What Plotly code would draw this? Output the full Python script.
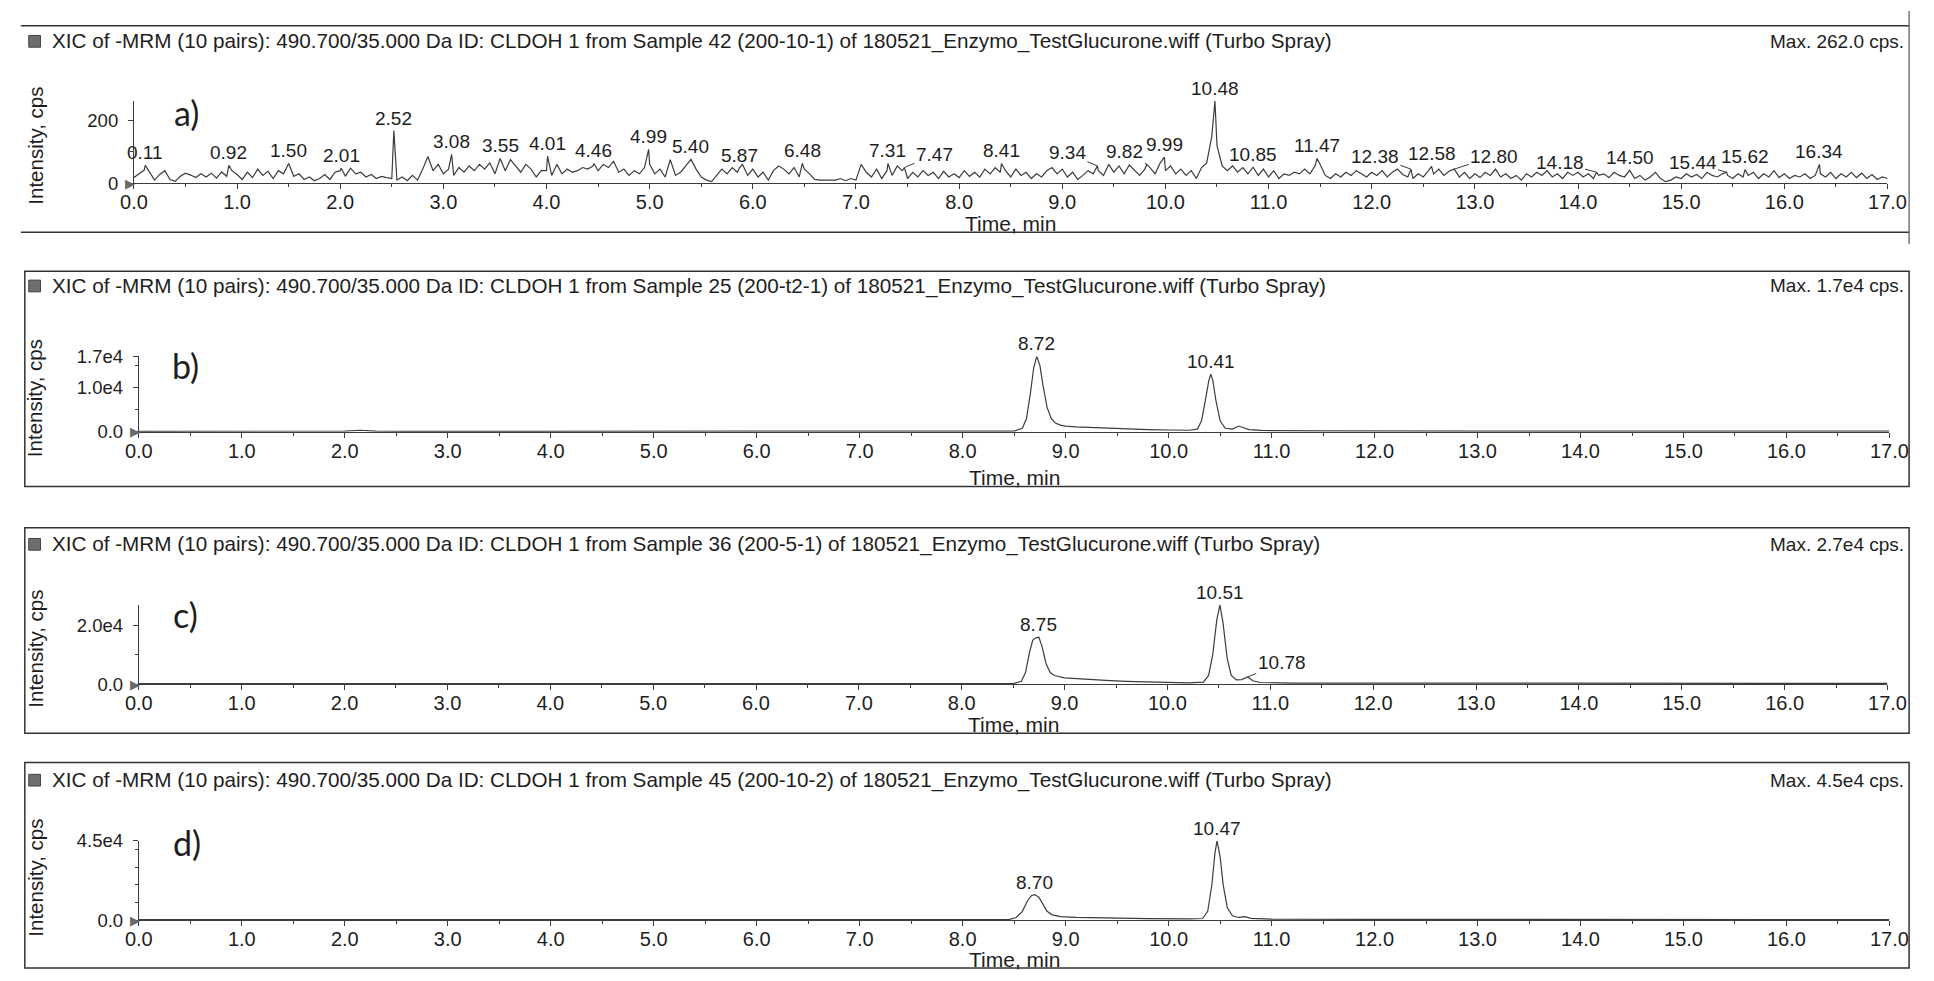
import numpy as np
import plotly.graph_objects as go

W, H = 1934, 981

# ---------------- DATA ----------------
a_step = 0.05
a_noise = [
    18, 30, 42, 38, 10, 28, 40, 12, 6, 22, 32, 26, 18, 30, 20, 32, 16, 36, 22, 40,
    28, 12, 35, 18, 45, 25, 38, 15, 40, 30, 55, 22, 30, 12, 20, 8, 15, 28, 12, 35,
    40, 22, 48, 30, 35, 20, 28, 15, 22, 18, 15, 10, 20, 8, 25, 10, 45, 85, 40, 60,
    30, 45, 25, 50, 35, 55, 40, 60, 45, 65, 30, 70, 40, 75, 55, 35, 60, 45, 20, 40,
    40, 25, 60, 30, 45, 35, 40, 50, 45, 55, 40, 60, 50, 70, 35, 45, 25, 40, 30, 50,
    60, 30, 45, 20, 75, 25, 35, 55, 70, 45, 20, 10, 5, 25, 45, 30, 50, 35, 60, 25,
    45, 20, 35, 10, 40, 55, 45, 30, 50, 20, 45, 30, 12, 10, 10, 12, 10, 15, 8, 15,
    10, 60, 35, 20, 45, 15, 40, 25, 55, 40, 15, 35, 20, 40, 25, 35, 15, 38, 20, 30,
    18, 40, 22, 35, 20, 45, 30, 50, 35, 40, 20, 45, 25, 35, 15, 30, 20, 40, 50, 30,
    45, 20, 35, 12, 25, 40, 30, 40, 25, 60, 35, 55, 30, 58, 40, 25, 45, 50, 30, 65,
    40, 55, 30, 45, 25, 40, 15, 50, 65, 150, 120, 55, 40, 55, 35, 50, 30, 45, 25, 45,
    20, 40, 15, 30, 25, 35, 30, 45, 30, 55, 60, 25, 15, 30, 20, 35, 25, 40, 30, 20,
    35, 25, 40, 20, 35, 45, 28, 20, 15, 30, 20, 40, 30, 45, 25, 38, 30, 20, 35, 15,
    30, 18, 35, 25, 45, 20, 30, 15, 25, 10, 30, 20, 35, 25, 40, 20, 30, 15, 35, 25,
    35, 20, 30, 15, 25, 30, 18, 35, 25, 20, 30, 15, 25, 10, 20, 35, 15, 5, 10, 20,
    15, 30, 20, 28, 15, 35, 25, 20, 30, 25, 15, 30, 20, 25, 35, 15, 30, 20, 40, 18,
    30, 15, 25, 20, 30, 15, 25, 30, 20, 35, 15, 30, 20, 35, 18, 32, 15, 28, 12, 20,
    15,
]
a_peak_rt = [0.11, 0.92, 1.50, 2.01, 2.52, 3.08, 3.55, 4.01, 4.46, 4.99, 5.40, 5.87,
             6.48, 7.31, 7.47, 8.41, 9.34, 9.82, 9.99, 10.48, 10.85, 11.47, 12.38,
             12.58, 12.80, 14.18, 14.50, 15.44, 15.62, 16.34]
a_peak_int = [57, 57, 63, 48, 168, 92, 79, 86, 63, 108, 76, 48,
              63, 63, 50, 63, 55, 60, 83, 262, 51, 79, 45,
              54, 45, 35, 41, 35, 44, 60]
# labels drawn with a leader line: rt -> (dx, dy) pixel offset of the label
a_leaders = {7.47: (30, -13), 9.34: (-30, -13), 9.82: (-22, -13), 12.38: (-36, -13),
             12.80: (40, -13), 14.18: (-37, -10), 15.44: (-34, -10)}

# Panel b
b_time = [0.0, 2.0, 2.15, 2.3, 2.6, 8.50, 8.58, 8.62, 8.66, 8.69, 8.72, 8.75, 8.78, 8.82,
          8.86, 8.90, 8.95, 9.0, 9.1, 9.2, 9.4, 9.6, 9.8, 10.0, 10.2, 10.28, 10.32, 10.36,
          10.39, 10.41, 10.43, 10.46, 10.50, 10.55, 10.62, 10.68, 10.72, 10.78, 10.9, 11.5,
          13.0, 17.0]
b_int = [100, 150, 350, 150, 100, 150, 800, 3000, 9000, 14500, 17000, 15000, 10500, 5500,
         3000, 2000, 1500, 1300, 1100, 1000, 900, 700, 500, 400, 350, 600, 2500, 7500,
         11500, 13000, 11500, 7000, 2500, 800, 600, 1300, 1000, 500, 300, 200,
         150, 150]
b_labels = [(8.72, 17000), (10.41, 13000)]

# Panel c
c_time = [0.0, 2.0, 2.15, 2.3, 2.6, 8.50, 8.58, 8.62, 8.66, 8.69, 8.72, 8.75, 8.78, 8.82,
          8.86, 8.90, 9.0, 9.2, 9.4, 9.6, 9.8, 10.0, 10.2, 10.35, 10.40, 10.44, 10.48,
          10.51, 10.54, 10.58, 10.62, 10.67, 10.72, 10.78, 10.83, 10.9, 11.2, 17.0]
c_int = [200, 250, 450, 250, 200, 200, 1000, 4000, 11000, 15000, 15800, 16000, 13000, 7000,
         4000, 3000, 2200, 1700, 1300, 1000, 800, 600, 500, 700, 3000, 10000, 22000,
         27000, 21000, 9000, 3000, 1500, 1600, 2500, 1200, 600, 400, 300]
c_labels = [(8.75, 16000), (10.51, 27000)]
c_leaders = [(10.78, 2500, 34, -14)]

# Panel d
d_time = [0.0, 2.0, 2.15, 2.3, 2.6, 8.45, 8.52, 8.58, 8.63, 8.67, 8.70, 8.74, 8.78, 8.82,
          8.87, 8.95, 9.1, 9.4, 9.8, 10.2, 10.33, 10.38, 10.42, 10.45, 10.47, 10.50,
          10.53, 10.57, 10.62, 10.68, 10.74, 10.8, 11.0, 12.0, 17.0]
d_int = [300, 350, 700, 350, 300, 300, 1500, 5000, 11000, 14000, 14500, 13000, 9000, 5000,
         3000, 2000, 1500, 1100, 800, 700, 900, 5000, 20000, 38000, 45000, 36000,
         20000, 7000, 2500, 1500, 2000, 1000, 600, 400, 300]
d_labels = [(8.70, 14500), (10.47, 45000)]

titles = [
    "XIC of -MRM (10 pairs): 490.700/35.000 Da ID: CLDOH 1 from Sample 42 (200-10-1) of 180521_Enzymo_TestGlucurone.wiff (Turbo Spray)",
    "XIC of -MRM (10 pairs): 490.700/35.000 Da ID: CLDOH 1 from Sample 25 (200-t2-1) of 180521_Enzymo_TestGlucurone.wiff (Turbo Spray)",
    "XIC of -MRM (10 pairs): 490.700/35.000 Da ID: CLDOH 1 from Sample 36 (200-5-1) of 180521_Enzymo_TestGlucurone.wiff (Turbo Spray)",
    "XIC of -MRM (10 pairs): 490.700/35.000 Da ID: CLDOH 1 from Sample 45 (200-10-2) of 180521_Enzymo_TestGlucurone.wiff (Turbo Spray)",
]
max_labels = ["Max. 262.0 cps.", "Max. 1.7e4 cps.", "Max. 2.7e4 cps.", "Max. 4.5e4 cps."]
panel_letters = ["a)", "b)", "c)", "d)"]
y_ranges = [262, 1.7e4, 2.7e4, 4.5e4]
y_tickvals = [[0, 200], [0, 1.0e4, 1.7e4], [0, 2.0e4], [0, 4.5e4]]
y_ticktext = [["0", "200"], ["0.0", "1.0e4", "1.7e4"], ["0.0", "2.0e4"], ["0.0", "4.5e4"]]
y_minor = [100, 5000, 1.0e4, 1.0e4]

# ---------------- BUILD ----------------
grid = np.round(np.arange(len(a_noise)) * a_step, 2)
merged = dict(zip(grid.tolist(), a_noise))
merged.update(dict(zip(a_peak_rt, a_peak_int)))
a_time = sorted(merged)
a_int = [merged[t] for t in a_time]

series = [(a_time, a_int), (b_time, b_int), (c_time, c_int), (d_time, d_int)]

FONT = "Liberation Sans, Arial, sans-serif"
INK = "#1e1e1e"
LINE = "#3c3c3c"

# x tick labels sit closer to the axis than plotly's default
try:
    go.layout.XAxis(ticklabelstandoff=-4)
    X_STANDOFF = -4
except Exception:
    X_STANDOFF = 0


def px(p):
    return p / W


def py(p):
    return 1 - p / H


# pixel geometry of each panel
geo = [
    dict(x0=122, x1=1906, base=176, top=92, title=31, time=217, ylab=138, letter=(176, 104),
         box=(7, 15, 1928, 226)),
    dict(x0=127, x1=1908, base=430, top=353, title=281, time=477, ylab=396, letter=(174, 362),
         box=(11, 266, 1928, 486)),
    dict(x0=127, x1=1906, base=688, top=607, title=545, time=729, ylab=652, letter=(174, 617),
         box=(11, 528, 1928, 738)),
    dict(x0=127, x1=1908, base=929, top=848, title=786, time=969, ylab=886, letter=(176, 850),
         box=(11, 768, 1928, 978)),
]

fig = go.Figure()
layout = dict(
    width=W, height=H, margin=dict(l=0, r=0, t=0, b=0),
    paper_bgcolor="white", plot_bgcolor="rgba(0,0,0,0)",
    showlegend=False, font=dict(family=FONT, color=INK),
)
annotations = []
shapes = []

for i, ((t, v), g) in enumerate(zip(series, geo)):
    sx = "" if i == 0 else str(i + 1)
    xa, ya = "x" + sx, "y" + sx
    fig.add_trace(go.Scatter(x=t, y=v, mode="lines", xaxis=xa, yaxis=ya,
                             line=dict(color=LINE, width=1.2), hoverinfo="skip"))
    layout["xaxis" + sx] = dict(
        domain=[px(g["x0"]), px(g["x1"])], range=[0, 17], anchor=ya,
        showline=True, linecolor=LINE, linewidth=1, ticks="outside", ticklen=5,
        tickcolor=LINE, tick0=0, dtick=1, tickformat=".1f", ticklabelstandoff=X_STANDOFF,
        tickfont=dict(size=20, family=FONT, color=INK), showgrid=False, zeroline=False,
        minor=dict(ticks="outside", ticklen=3, dtick=0.5, tick0=0, tickcolor=LINE, showgrid=False),
    )
    layout["yaxis" + sx] = dict(
        domain=[py(g["base"]), py(g["top"])], range=[0, y_ranges[i]], anchor=xa,
        showline=True, linecolor=LINE, linewidth=1, ticks="outside", ticklen=5,
        tickcolor=LINE, tickmode="array", tickvals=y_tickvals[i], ticktext=y_ticktext[i],
        tickfont=dict(size=18.5, family=FONT, color=INK), showgrid=False, zeroline=False,
        ticklabelstandoff=6,
        minor=dict(ticks="outside", ticklen=3, dtick=y_minor[i], tick0=0, tickcolor=LINE, showgrid=False),
    )
    # origin marker
    annotations.append(dict(x=0, y=0, xref=xa, yref=ya, text="\u25B6", showarrow=False,
                            xanchor="right", yanchor="middle", xshift=3,
                            font=dict(size=13, color="#6a6a6a", family="DejaVu Sans")))
    # title, max label
    annotations.append(dict(x=px(37), y=py(g["title"]), xref="paper", yref="paper",
                            text=titles[i], showarrow=False, xanchor="left", yanchor="middle",
                            font=dict(size=20.7, family=FONT, color=INK)))
    shapes.append(dict(type="rect", xref="paper", yref="paper",
                       x0=px(15), x1=px(27), y0=py(g["title"] + 6), y1=py(g["title"] - 6),
                       fillcolor="#6e6e6e", line=dict(color="#444", width=1)))
    annotations.append(dict(x=px(1925), y=py(g["title"]), xref="paper", yref="paper",
                            text=max_labels[i], showarrow=False, xanchor="right", yanchor="middle",
                            font=dict(size=19, family=FONT, color=INK)))
    # axis titles
    annotations.append(dict(x=px((g["x0"] + g["x1"]) / 2), y=py(g["time"]), xref="paper", yref="paper",
                            text="Time, min", showarrow=False, xanchor="center", yanchor="middle",
                            font=dict(size=21, family=FONT, color=INK)))
    annotations.append(dict(x=px(21), y=py(g["ylab"]), xref="paper", yref="paper",
                            text="Intensity, cps", showarrow=False, textangle=-90,
                            xanchor="center", yanchor="middle",
                            font=dict(size=20.5, family=FONT, color=INK)))
    # panel letter
    annotations.append(dict(x=px(g["letter"][0]), y=py(g["letter"][1]), xref="paper", yref="paper",
                            text=panel_letters[i], showarrow=False, xanchor="center", yanchor="middle",
                            font=dict(size=34, family="Lato, Carlito, sans-serif", color=INK)))
    # frame
    x0b, y0b, x1b, y1b = g["box"]
    if i == 0:
        shapes.append(dict(type="line", xref="paper", yref="paper", x0=px(x0b), x1=px(x1b),
                           y0=py(y0b), y1=py(y0b), line=dict(color="#333", width=1.5)))
        shapes.append(dict(type="line", xref="paper", yref="paper", x0=px(x0b), x1=px(x1b),
                           y0=py(y1b), y1=py(y1b), line=dict(color="#333", width=1.5)))
        shapes.append(dict(type="line", xref="paper", yref="paper", x0=px(x1b), x1=px(x1b),
                           y0=py(0), y1=py(y1b + 12), line=dict(color="#555", width=1.2)))
    else:
        shapes.append(dict(type="rect", xref="paper", yref="paper", x0=px(x0b), x1=px(x1b),
                           y0=py(y1b), y1=py(y0b), line=dict(color="#333", width=1.5)))

    # peak labels
    if i == 0:
        labels = list(zip(a_peak_rt, a_peak_int))
        leaders = [(rt, h) + a_leaders[rt] for rt, h in labels if rt in a_leaders]
        labels = [(rt, h) for rt, h in labels if rt not in a_leaders]
    elif i == 1:
        labels, leaders = b_labels, []
    elif i == 2:
        labels, leaders = c_labels, c_leaders
    else:
        labels, leaders = d_labels, []
    for rt, h in labels:
        annotations.append(dict(x=rt, y=h, xref=xa, yref=ya, text=f"{rt:.2f}", showarrow=False,
                                xanchor="center", yanchor="bottom", yshift=0,
                                font=dict(size=19, family=FONT, color=INK)))
    for rt, h, dx, dy in leaders:
        annotations.append(dict(x=rt, y=h, xref=xa, yref=ya, text=f"{rt:.2f}", showarrow=True,
                                arrowhead=0, arrowwidth=1, arrowcolor=LINE, ax=dx, ay=dy,
                                standoff=0, startstandoff=0,
                                font=dict(size=19, family=FONT, color=INK)))

layout["annotations"] = annotations
layout["shapes"] = shapes
fig.update_layout(**layout)
fig.write_html(
    "out.html",
    config={"displayModeBar": False},
    post_script="document.body.style.margin='0';document.body.style.overflow='hidden';",
)
